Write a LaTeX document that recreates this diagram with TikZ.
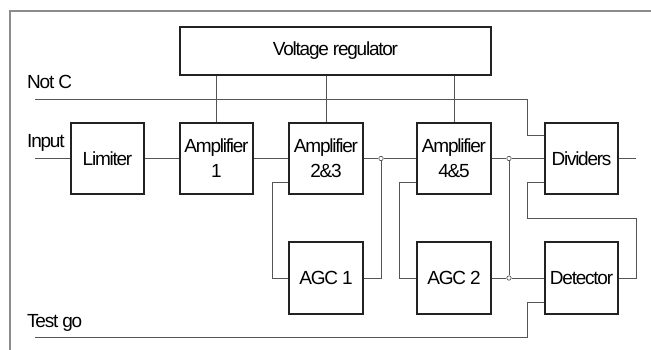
\documentclass[tikz,border=0pt]{standalone}
\usepackage{fontspec}
\setmainfont{Liberation Sans}[LetterSpace=-6.5]
\definecolor{boxline}{HTML}{222222}
\definecolor{wire}{HTML}{555555}
\definecolor{frame}{HTML}{8C8C8C}
\tikzset{
  blk/.style={draw=boxline, line width=1.3pt, minimum width=73pt, minimum height=71pt,
    inner sep=0pt, align=center, font=\fontsize{19}{25}\selectfont},
  wirestyle/.style={draw=wire, line width=0.9pt},
  junc/.style={circle, draw=wire, fill=white, line width=0.7pt, minimum size=4.4pt, inner sep=0pt},
  lbl/.style={anchor=base west, inner sep=0pt, font=\fontsize{19}{25}\selectfont}
}
\begin{document}
\begin{tikzpicture}[x=1pt,y=-1pt]
\useasboundingbox (0,0) rectangle (651,350);
% frame
\draw[frame, line width=1.6pt] (10,352) -- (10,11) -- (653,11);
% blocks
\node[blk, minimum width=311pt, minimum height=48pt] (vr) at (335.5,51) {Voltage regulator};
\node[blk] (lim) at (107.5,158.5) {Limiter};
\node[blk] (a1) at (216.5,158.5) {Amplifier\\1};
\node[blk, minimum width=74pt] (a23) at (326,158.5) {Amplifier\\2\&3};
\node[blk, minimum width=74pt] (a45) at (454,158.5) {Amplifier\\4\&5};
\node[blk] (div) at (581.5,158.5) {Dividers};
\node[blk, minimum width=74pt, minimum height=72pt] (agc1) at (326,278) {AGC 1};
\node[blk, minimum width=74pt, minimum height=72pt] (agc2) at (454,278) {AGC 2};
\node[blk, minimum height=72pt] (det) at (581.5,278) {Detector};
% labels
\node[lbl] (lnotc) at (27,89) {Not C};
\node[lbl] (linput) at (27,148) {Input};
\node[lbl] (ltest) at (27,327) {Test go};
% coordinates
\coordinate (notc) at (35,99);
\coordinate (inp) at (35,158.5);
\coordinate (tg) at (35,337);
\coordinate (out) at (636,158.5);
\node[junc] (j1) at (381,158.5) {};
\node[junc] (j2) at (509,158.5) {};
\node[junc] (j3) at (509,278) {};
% regulator drops
\draw[wirestyle] (vr.south -| a1.north) -- (a1.north);
\draw[wirestyle] (vr.south -| a23.north) -- (a23.north);
\draw[wirestyle] (vr.south -| a45.north) -- (a45.north);
% Not C
\draw[wirestyle] (notc) -- (527,99) -- (527,135) -- (div.west |- 0,135);
% signal chain
\draw[wirestyle] (inp) -- (lim.west);
\draw[wirestyle] (lim.east) -- (a1.west);
\draw[wirestyle] (a1.east) -- (a23.west);
\draw[wirestyle] (a23.east) -- (j1.west);
\draw[wirestyle] (j1.east) -- (a45.west);
\draw[wirestyle] (a45.east) -- (j2.west);
\draw[wirestyle] (j2.east) -- (div.west);
\draw[wirestyle] (div.east) -- (out);
% AGC1 loop
\draw[wirestyle] (j1.south) -- (j1 |- agc1.east) -- (agc1.east);
\draw[wirestyle] (agc1.west) -- (272,278) -- (272,182) -- (a23.west |- 0,182);
% AGC2 loop
\draw[wirestyle] (a45.west |- 0,182) -- (399,182) -- (399,278) -- (agc2.west);
\draw[wirestyle] (j2.south) -- (j3.north);
\draw[wirestyle] (agc2.east) -- (j3.west);
\draw[wirestyle] (j3.east) -- (det.west);
% dividers to detector
\draw[wirestyle] (div.west |- 0,182) -- (527,182) -- (527,218) -- (636,218) -- (636,278) -- (det.east);
% Test go
\draw[wirestyle] (tg) -- (527,337) -- (527,302) -- (det.west |- 0,302);
\end{tikzpicture}
\end{document}
